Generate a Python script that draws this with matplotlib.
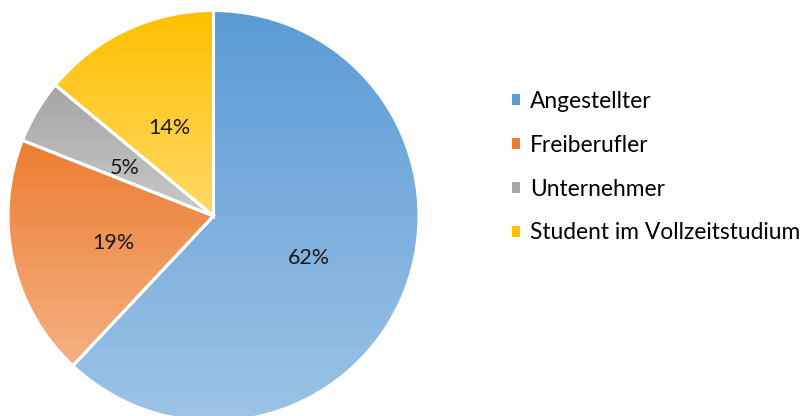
import numpy as np
import matplotlib
matplotlib.use("Agg")
import matplotlib.pyplot as plt
from matplotlib.colors import to_rgb
from matplotlib.patches import Patch
from matplotlib.transforms import offset_copy

plt.rcParams['font.family'] = ['Lato', 'DejaVu Sans']

labels = ['Angestellter', 'Freiberufler', 'Unternehmer', 'Student im Vollzeitstudium']
shares = [62, 19, 5, 14]
top_colors = ['#5B9BD5', '#ED7D31', '#A5A5A5', '#FFC000']
bottom_colors = ['#9DC3E6', '#F4B183', '#C9C9C9', '#FFD966']


def gradient(c1, c2, n=256):
    a = np.array(to_rgb(c1))
    b = np.array(to_rgb(c2))
    t = np.linspace(0, 1, n)[:, None]
    return (a + (b - a) * t)[:, None, :]


W, H = 804, 416
fig = plt.figure(figsize=(W / 100, H / 100), dpi=100)

# pie circle: centre (213.5, 200) px from bottom-left, radius 205.5 px
cx, cy, r = 213.5, 200, 205.5
ax = fig.add_axes([(cx - r) / W, (cy - r) / H, 2 * r / W, 2 * r / H])
ax.set_xlim(-1, 1)
ax.set_ylim(-1, 1)
ax.axis('off')

wedges, texts, autotexts = ax.pie(
    shares, startangle=90, counterclock=False, radius=1,
    autopct='%d%%', pctdistance=0.5,
    wedgeprops=dict(edgecolor='white', linewidth=2.2, facecolor='none'),
    textprops=dict(fontsize=15.5, color='#1a1a1a', va='center'))

# nudge the percentage labels a few pixels down
for t in autotexts:
    t.set_transform(offset_copy(ax.transData, fig=fig, x=0, y=-4.5, units='dots'))

for w, c1, c2 in zip(wedges, top_colors, bottom_colors):
    ext = w.get_path().get_extents()
    im = ax.imshow(gradient(c1, c2), extent=[ext.x0, ext.x1, ext.y0, ext.y1],
                   origin='upper', aspect='auto', zorder=w.get_zorder() - 0.1,
                   interpolation='bilinear')
    im.set_clip_path(w)

ax.set_xlim(-1, 1)
ax.set_ylim(-1, 1)

handles = [Patch(facecolor=c, edgecolor='none') for c in top_colors]
fig.legend(handles, labels, loc='upper left', bbox_to_anchor=(512 / W, 1 - 91 / H),
           frameon=False, fontsize=16.4, handlelength=0.36, handleheight=0.36,
           handletextpad=0.42, labelspacing=1.0, borderpad=0, borderaxespad=0)

fig.savefig('out.png', dpi=100)
